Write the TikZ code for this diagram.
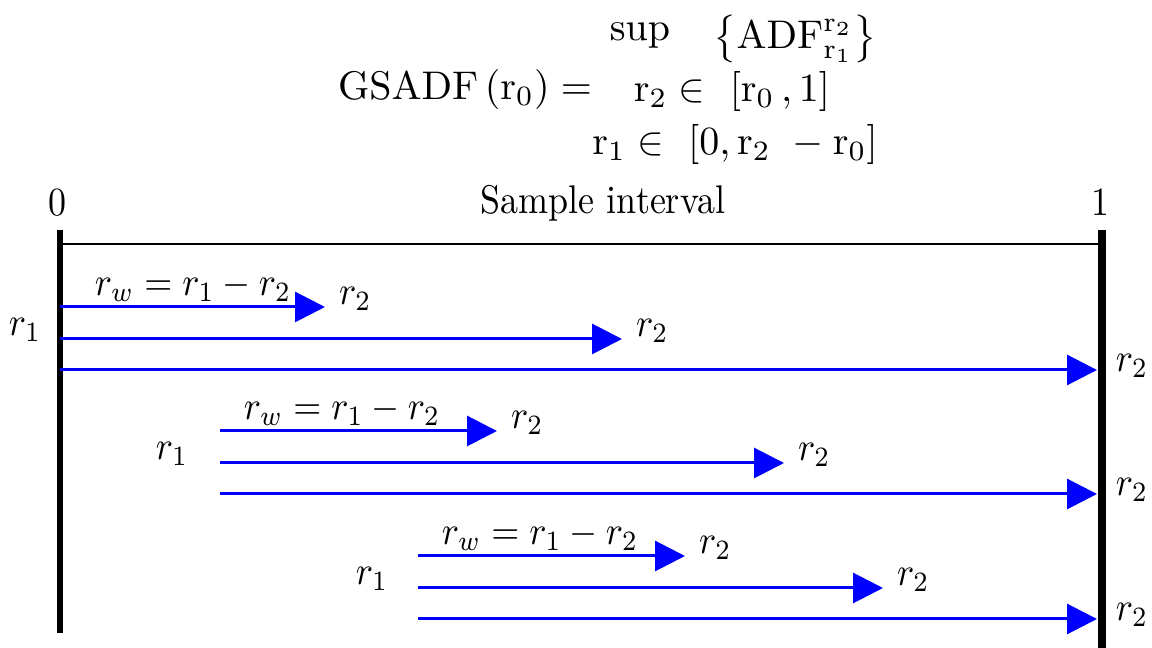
\documentclass[tikz,border=0pt]{standalone}
\usepackage{amsmath, amssymb}
\usepackage{graphicx}
\usepackage{tikz}
\usetikzlibrary{arrows.meta, positioning}

% labels of the interval look a bit narrow
\newcommand{\nar}[1]{\scalebox{0.9}[1]{#1}}

\begin{document}
\begin{tikzpicture}[x=0.25pt, y=-0.25pt,
        win/.style={draw=blue, line width=0.75pt, -{Triangle[length=7.5pt, width=7.5pt]}},
        edgebar/.style={line width=1.4pt}]
        \useasboundingbox (0,0) rectangle (1152,648);

        % Formula on top (upright r as in the source)
        \node (gsadf) at (465,90) {$\mathrm{GSADF}\,(\mathrm{r_0}) =$};
        \node (supop) at (640,36) {$\sup$};
        \node [inner sep=0pt] (adf) at (795,39) {$\bigl\{\mathrm{ADF}_{\mathrm{r_1}}^{\mathrm{r_2}}\bigr\}$};
        \node (rtwo) at (732,92) {$\mathrm{r_2} \in\ [\mathrm{r_0}\,, 1]$};
        \node (rone) at (735,145) {$\mathrm{r_1} \in\ [0, \mathrm{r_2}\ - \mathrm{r_0}]$};

        % Sample interval with its two ends
        \node (zero) at (57,203) {\nar{$0$}};
        \node (one) at (1100,203) {\nar{$1$}};
        \node (sample) at (603,203) {\nar{Sample interval}};
        \coordinate (lefttop) at (60,230);
        \coordinate (leftbot) at (60,633);
        \coordinate (righttop) at (1102,230);
        \coordinate (rightbot) at (1102,648);
        \coordinate (linea) at (60,244);
        \coordinate (lineb) at (1100,244);
        \draw [edgebar] (lefttop) -- (leftbot);
        \draw [line width=2pt] (righttop) -- (rightbot);
        \draw [line width=0.5pt] (linea) -- (lineb);

        % Three groups of windows, each starting at r_1
        \foreach \g/\s/\ya/\xa/\xb/\rx/\wx in {1/60/307/325/622/25/193,
                2/220/431/497/784/172/342, 3/418/556/685/883/372/540} {
            \coordinate (sa\g) at (\s,\ya);
            \coordinate (sb\g) at (\s,\ya+32);
            \coordinate (sc\g) at (\s,\ya+63);
            \coordinate (ta\g) at (\xa,\ya);
            \coordinate (tb\g) at (\xb,\ya+32);
            \coordinate (tc\g) at (1097,\ya+63);
            \node (rone\g) at (\rx,\ya+23) {\nar{$r_1$}};
            \node (rw\g) at (\wx,\ya-20) {\nar{$r_w = r_1 - r_2$}};
            \node [right=0pt of ta\g, yshift=2pt] (ra\g) {\nar{$r_2$}};
            \node [right=0pt of tb\g, yshift=2pt] (rb\g) {\nar{$r_2$}};
            \node (rc\g) at (1132,\ya+59) {\nar{$r_2$}};
            \draw [win] (sa\g) -- (ta\g);
            \draw [win] (sb\g) -- (tb\g);
            \draw [win] (sc\g) -- (tc\g);
        }
    \end{tikzpicture}
\end{document}
